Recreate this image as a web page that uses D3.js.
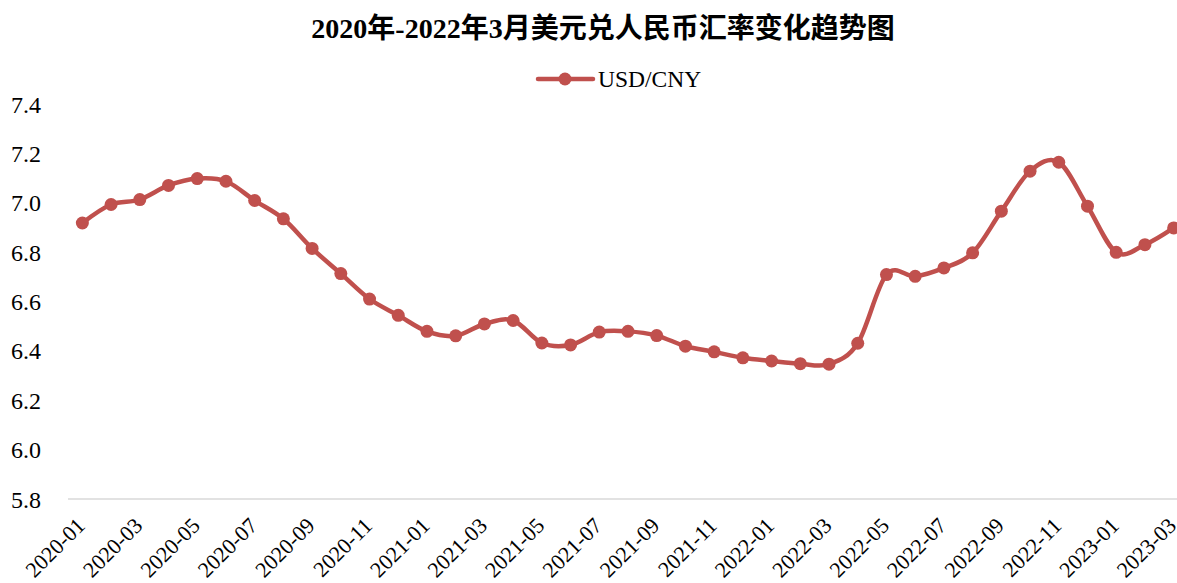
<!DOCTYPE html>
<html>
<head>
<meta charset="utf-8">
<script src="https://cdn.jsdelivr.net/npm/d3@7"></script>
<style>
  body { margin: 0; background: #fff; }
  svg { display: block; }
</style>
</head>
<body>
<svg id="chart" width="1177" height="583"></svg>
<script>
const TITLE = "2020年-2022年3月美元兑人民币汇率变化趋势图";
const SERIES_NAME = "USD/CNY";

const months = [
  "2020-01", "2020-02", "2020-03", "2020-04", "2020-05", "2020-06",
  "2020-07", "2020-08", "2020-09", "2020-10", "2020-11", "2020-12",
  "2021-01", "2021-02", "2021-03", "2021-04", "2021-05", "2021-06",
  "2021-07", "2021-08", "2021-09", "2021-10", "2021-11", "2021-12",
  "2022-01", "2022-02", "2022-03", "2022-04", "2022-05", "2022-06",
  "2022-07", "2022-08", "2022-09", "2022-10", "2022-11", "2022-12",
  "2023-01", "2023-02", "2023-03"
];

const rates = [
  6.918, 6.993, 7.013, 7.070, 7.098, 7.087,
  7.009, 6.935, 6.815, 6.713, 6.610, 6.544,
  6.479, 6.461, 6.509, 6.523, 6.432, 6.424,
  6.476, 6.479, 6.462, 6.419, 6.396, 6.372,
  6.359, 6.348, 6.346, 6.431, 6.709, 6.702,
  6.736, 6.797, 6.966, 7.128, 7.164, 6.986,
  6.799, 6.830, 6.898
];

const yTicks = [5.8, 6.0, 6.2, 6.4, 6.6, 6.8, 7.0, 7.2, 7.4];

const data = months.map((m, i) => ({ month: m, value: rates[i] }));

const svg = d3.select("#chart");
const COLOR = "#c0504d";
const latin = "'Liberation Serif', 'Times New Roman', serif";

const plot = { left: 68, right: 1188, top: 104, bottom: 499 };

const x = d3.scaleBand()
  .domain(months)
  .range([plot.left, plot.right]);
const cx = d => x(d) + x.bandwidth() / 2;

const y = d3.scaleLinear()
  .domain([5.8, 7.4])
  .range([plot.bottom, plot.top]);

// title
svg.append("text")
  .attr("x", 603)
  .attr("y", 38)
  .attr("text-anchor", "middle")
  .attr("font-family", "'Liberation Serif', 'Noto Sans CJK SC', serif")
  .attr("font-weight", "bold")
  .attr("font-size", 28)
  .attr("fill", "#000")
  .text(TITLE);

// legend
const legend = svg.append("g").attr("transform", "translate(538,79)");
legend.append("line")
  .attr("x1", 0).attr("x2", 55)
  .attr("stroke", COLOR).attr("stroke-width", 4.5)
  .attr("stroke-linecap", "round");
legend.append("circle")
  .attr("cx", 27).attr("r", 6.5).attr("fill", COLOR);
legend.append("text")
  .attr("x", 60).attr("y", 8)
  .attr("font-family", latin)
  .attr("font-size", 23.5)
  .attr("fill", "#000")
  .text(SERIES_NAME);

// y axis labels (no axis line, only the baseline gridline)
svg.append("g")
  .selectAll("text")
  .data(yTicks)
  .join("text")
  .attr("x", 11)
  .attr("y", d => y(d) + 8.5)
  .attr("font-family", latin)
  .attr("font-size", 24)
  .attr("fill", "#000")
  .text(d => d3.format(".1f")(d));

svg.append("line")
  .attr("x1", plot.left).attr("x2", plot.right)
  .attr("y1", y(5.8)).attr("y2", y(5.8))
  .attr("stroke", "#d9d9d9").attr("stroke-width", 1.5);

// x axis labels, every second month, rotated
svg.append("g")
  .selectAll("text")
  .data(months.filter((m, i) => i % 2 === 0))
  .join("text")
  .attr("transform", d => `translate(${cx(d) + 4},${plot.bottom + 28}) rotate(-45)`)
  .attr("text-anchor", "end")
  .attr("font-family", latin)
  .attr("font-size", 22)
  .attr("fill", "#000")
  .text(d => d);

// line
const line = d3.line()
  .x(d => cx(d.month))
  .y(d => y(d.value))
  .curve(d3.curveCardinal.tension(0));

svg.append("path")
  .datum(data)
  .attr("d", line)
  .attr("fill", "none")
  .attr("stroke", COLOR)
  .attr("stroke-width", 4.5)
  .attr("stroke-linejoin", "round");

svg.append("g")
  .selectAll("circle")
  .data(data)
  .join("circle")
  .attr("cx", d => cx(d.month))
  .attr("cy", d => y(d.value))
  .attr("r", 6.5)
  .attr("fill", COLOR);
</script>
</body>
</html>
